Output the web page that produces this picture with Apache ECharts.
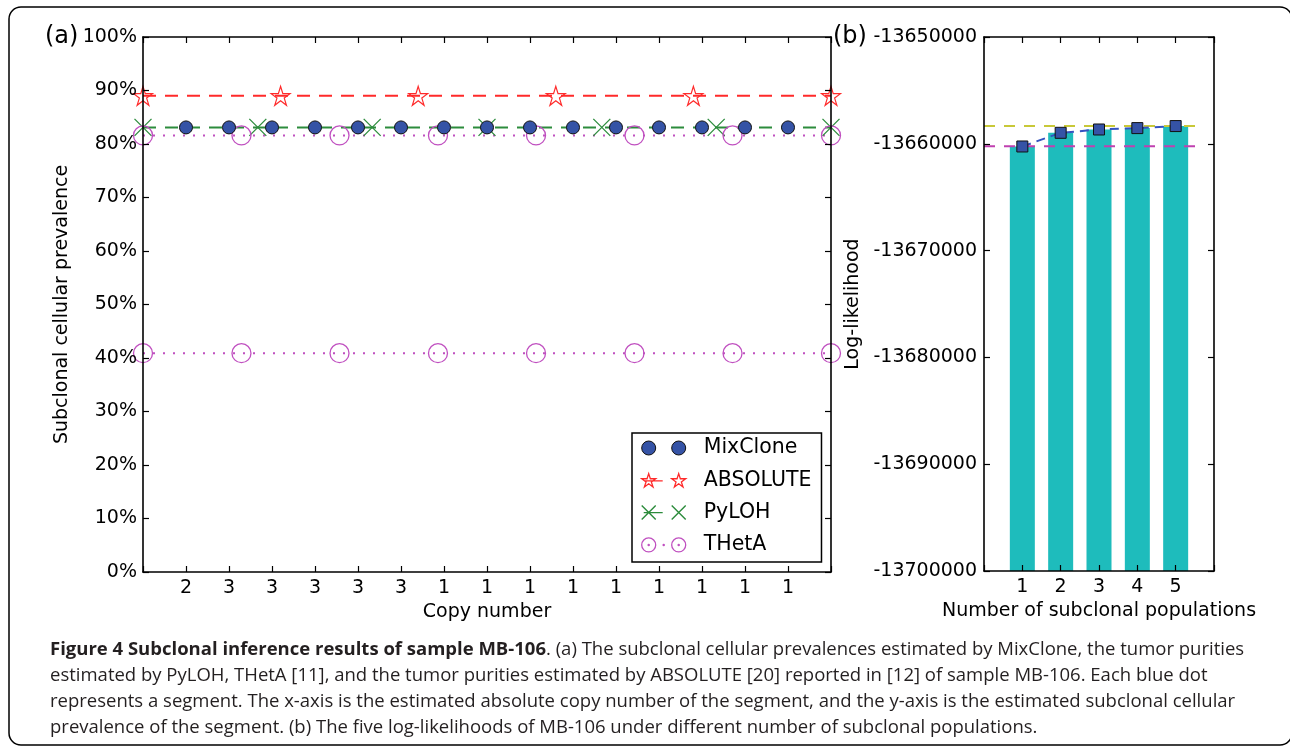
<!DOCTYPE html>
<html>
<head>
<meta charset="utf-8">
<script src="https://cdn.jsdelivr.net/npm/echarts@6/dist/echarts.min.js"></script>
<style>
html, body { margin: 0; padding: 0; background: #fff; }
#main { width: 1290px; height: 748px; }
</style>
</head>
<body>
<div id="main"></div>
<script>
// panel (a): one tick per segment, labelled with its copy number
var copyNumbers = ['2', '3', '3', '3', '3', '3', '1', '1', '1', '1', '1', '1', '1', '1', '1'];
var mixclone = [83.1, 83.1, 83.1, 83.1, 83.1, 83.1, 83.1, 83.1, 83.1, 83.1, 83.1, 83.1, 83.1, 83.1, 83.1];
// purity lines (markers only sit where matplotlib put them)
var absoluteX = [0, 3.2, 6.4, 9.6, 12.8, 16];
var absoluteY = 89.0;
var pylohX = [0, 2.67, 5.33, 8, 10.67, 13.33, 16];
var pylohY = 83.1;
var thetaX = [0, 2.29, 4.57, 6.86, 9.14, 11.43, 13.71, 16];
var thetaY = [81.6, 40.9];

// panel (b)
var subclones = [1, 2, 3, 4, 5];
var loglik = [-13660250, -13658970, -13658660, -13658530, -13658340];
var maxLine = -13658340;
var minLine = -13660220;
var refSpan = [0, 5.7];

var FONT = 'DejaVu Sans';
var RED = '#ff2a2a', GREEN = '#2c8c3c', MAGENTA = '#c050c0', BLUE = '#3553a6';
var chart = echarts.init(document.getElementById('main'));

function pts(xs, y) {
    return xs.map(function (x) { return [x, y]; });
}

var starPath = 'path://M50,2 L61.2,36.6 L97.6,36.6 L68.2,58 L79.4,92.6 L50,71.2 L20.6,92.6 L31.8,58 L2.4,36.6 L38.8,36.6 Z';
var crossPath = 'path://M0,0 L10,10 M10,0 L0,10';

// legend icons: two markers per entry, like matplotlib's numpoints=2
var iconMix = 'path://M0,8 A7,7 0 1,0 14,8 A7,7 0 1,0 0,8 Z M30,8 A7,7 0 1,0 44,8 A7,7 0 1,0 30,8 Z';
var iconAbs = 'path://M7,1.34 L8.65,6.43 L14,6.43 L9.67,9.57 L11.33,14.65 L7,11.51 L2.67,14.65 L4.33,9.57 L0,6.43 L5.35,6.43 Z ' +
    'M37,1.34 L38.65,6.43 L44,6.43 L39.67,9.57 L41.33,14.65 L37,11.51 L32.67,14.65 L34.33,9.57 L30,6.43 L35.35,6.43 Z M3,8.5 L21,8.5';
var iconPy = 'path://M0,1 L14,15 M14,1 L0,15 M30,1 L44,15 M44,1 L30,15 M2,8 L21,8';
var iconTheta = 'path://M0,8 A7,7 0 1,0 14,8 A7,7 0 1,0 0,8 Z M30,8 A7,7 0 1,0 44,8 A7,7 0 1,0 30,8 Z ' +
    'M6.4,8 A0.6,0.6 0 1,0 7.6,8 A0.6,0.6 0 1,0 6.4,8 Z M21.4,8 A0.6,0.6 0 1,0 22.6,8 A0.6,0.6 0 1,0 21.4,8 Z ' +
    'M36.4,8 A0.6,0.6 0 1,0 37.6,8 A0.6,0.6 0 1,0 36.4,8 Z';

// matplotlib style frame: ticks point into the plot on all four sides
function tickOpt() {
    return { show: true, inside: true, length: 6, lineStyle: { color: '#000', width: 1.2 } };
}
function lineOpt() {
    return { show: true, onZero: false, lineStyle: { color: '#000', width: 1.6 } };
}
function topAxis(gridIndex, xmax) {
    return { type: 'value', gridIndex: gridIndex, position: 'top', min: 0, max: xmax, interval: 1,
        axisLine: lineOpt(), axisTick: tickOpt(), axisLabel: { show: false }, splitLine: { show: false }, z: 5 };
}
function rightAxis(gridIndex, ymin, ymax, step) {
    return { type: 'value', gridIndex: gridIndex, position: 'right', min: ymin, max: ymax, interval: step,
        axisLine: lineOpt(), axisTick: tickOpt(), axisLabel: { show: false }, splitLine: { show: false }, z: 5 };
}
function textStyle() {
    return { fontFamily: FONT, fontSize: 19, color: '#000' };
}
function labelOpt(margin, fmt) {
    var o = textStyle();
    o.margin = margin;
    o.formatter = fmt;
    return o;
}

var capFont = { fontFamily: 'Open Sans', fontSize: 18.5, fill: '#231f20', verticalAlign: 'middle' };
function caption(y, text) {
    var s = Object.assign({ text: text, rich: { b: { fontWeight: 'bold', fontFamily: 'Open Sans', fontSize: 18.5, fill: '#231f20' } } }, capFont);
    return { type: 'text', x: 50, y: y, style: s };
}

var option = {
    backgroundColor: '#fff',
    animation: false,
    grid: [
        { left: 143, top: 37, width: 688, height: 535 },
        { left: 984, top: 37, width: 230, height: 534 }
    ],
    xAxis: [
        {
            type: 'value', gridIndex: 0, position: 'bottom', min: 0, max: 16, interval: 1,
            name: 'Copy number', nameLocation: 'middle', nameGap: 29,
            nameTextStyle: textStyle(),
            axisLine: lineOpt(), axisTick: tickOpt(), splitLine: { show: false }, z: 5,
            axisLabel: labelOpt(7, function (v) {
                return (v >= 1 && v <= copyNumbers.length) ? copyNumbers[v - 1] : '';
            })
        },
        topAxis(0, 16),
        {
            type: 'value', gridIndex: 1, position: 'bottom', min: 0, max: 6, interval: 1,
            name: 'Number of subclonal populations', nameLocation: 'middle', nameGap: 29,
            nameTextStyle: textStyle(),
            axisLine: lineOpt(), axisTick: tickOpt(), splitLine: { show: false }, z: 5,
            axisLabel: labelOpt(7, function (v) {
                return subclones.indexOf(v) >= 0 ? String(v) : '';
            })
        },
        topAxis(1, 6)
    ],
    yAxis: [
        {
            type: 'value', gridIndex: 0, position: 'left', min: 0, max: 100, interval: 10,
            name: 'Subclonal cellular prevalence', nameLocation: 'middle', nameGap: 69, nameRotate: 90,
            nameTextStyle: textStyle(),
            axisLine: lineOpt(), axisTick: tickOpt(), splitLine: { show: false }, z: 5,
            axisLabel: labelOpt(6, '{value}%')
        },
        rightAxis(0, 0, 100, 10),
        {
            type: 'value', gridIndex: 1, position: 'left', min: -13700000, max: -13650000, interval: 10000,
            startValue: -13700000,
            name: 'Log-likelihood', nameLocation: 'middle', nameGap: 121, nameRotate: 90,
            nameTextStyle: textStyle(),
            axisLine: lineOpt(), axisTick: tickOpt(), splitLine: { show: false }, z: 5,
            axisLabel: labelOpt(7, function (v) { return String(v); })
        },
        rightAxis(1, -13700000, -13650000, 10000)
    ],
    legend: {
        orient: 'vertical',
        left: 632, top: 433,
        padding: [4, 10, 6, 9],
        itemGap: 10.3,
        itemWidth: 44, itemHeight: 16,
        backgroundColor: '#fff',
        borderColor: '#000', borderWidth: 1.5, borderRadius: 0,
        formatter: function (n) { return '  ' + n; },
        textStyle: { fontFamily: FONT, fontSize: 20.5, color: '#000', lineHeight: 22 },
        data: [
            { name: 'MixClone', icon: iconMix, itemStyle: { color: BLUE, borderColor: '#111', borderWidth: 1 } },
            { name: 'ABSOLUTE', icon: iconAbs, itemStyle: { color: 'rgba(0,0,0,0)', borderColor: RED, borderWidth: 1.3 } },
            { name: 'PyLOH', icon: iconPy, itemStyle: { color: 'rgba(0,0,0,0)', borderColor: GREEN, borderWidth: 1.4 } },
            { name: 'THetA', icon: iconTheta, itemStyle: { color: 'rgba(0,0,0,0)', borderColor: MAGENTA, borderWidth: 1.3 } }
        ]
    },
    series: [
        {
            name: 'ABSOLUTE', type: 'line', xAxisIndex: 0, yAxisIndex: 0,
            data: pts(absoluteX, absoluteY),
            symbol: starPath, symbolSize: 19,
            itemStyle: { color: 'rgba(255,255,255,0)', borderColor: RED, borderWidth: 1.2 },
            lineStyle: { color: RED, width: 2, type: [13, 9] },
            z: 3
        },
        {
            name: 'PyLOH', type: 'line', xAxisIndex: 0, yAxisIndex: 0,
            data: pts(pylohX, pylohY),
            symbol: crossPath, symbolSize: 17,
            itemStyle: { color: 'rgba(255,255,255,0)', borderColor: GREEN, borderWidth: 1.3 },
            lineStyle: { color: GREEN, width: 2, type: [13, 9] },
            z: 3
        },
        {
            name: 'THetA', type: 'line', xAxisIndex: 0, yAxisIndex: 0,
            data: pts(thetaX, thetaY[0]),
            symbol: 'circle', symbolSize: 19,
            itemStyle: { color: 'rgba(255,255,255,0)', borderColor: MAGENTA, borderWidth: 1.3 },
            lineStyle: { color: MAGENTA, width: 2, type: [2, 8] },
            z: 3
        },
        {
            name: 'THetA', type: 'line', xAxisIndex: 0, yAxisIndex: 0,
            data: pts(thetaX, thetaY[1]),
            symbol: 'circle', symbolSize: 19,
            itemStyle: { color: 'rgba(255,255,255,0)', borderColor: MAGENTA, borderWidth: 1.3 },
            lineStyle: { color: MAGENTA, width: 2, type: [2, 8] },
            z: 3
        },
        {
            name: 'MixClone', type: 'scatter', xAxisIndex: 0, yAxisIndex: 0,
            data: mixclone.map(function (v, i) { return [i + 1, v]; }),
            symbol: 'circle', symbolSize: 13,
            itemStyle: { color: BLUE, borderColor: '#111', borderWidth: 1, opacity: 1 },
            z: 4
        },
        {
            type: 'bar', xAxisIndex: 2, yAxisIndex: 2,
            data: loglik.map(function (v, i) { return [subclones[i], v]; }),
            barWidth: 25,
            itemStyle: { color: '#1ebcbc' },
            z: 2
        },
        {
            type: 'line', xAxisIndex: 2, yAxisIndex: 2,
            data: pts(refSpan, maxLine), symbol: 'none',
            lineStyle: { color: '#c8c838', width: 2, type: [11, 9] },
            z: 3
        },
        {
            type: 'line', xAxisIndex: 2, yAxisIndex: 2,
            data: pts(refSpan, minLine), symbol: 'none',
            lineStyle: { color: '#c040b0', width: 2, type: [11, 9] },
            z: 3
        },
        {
            type: 'line', xAxisIndex: 2, yAxisIndex: 2,
            data: loglik.map(function (v, i) { return [subclones[i], v]; }),
            symbol: 'rect', symbolSize: 11,
            itemStyle: { color: BLUE, borderColor: '#111', borderWidth: 1 },
            lineStyle: { color: '#3553c0', width: 2, type: [9, 6] },
            z: 4
        }
    ],
    graphic: [
        { type: 'rect', shape: { x: 9, y: 7, width: 1283, height: 738, r: 12 },
          style: { fill: 'none', stroke: '#000', lineWidth: 1.5 }, z: 10 },
        { type: 'text', x: 45, y: 37, style: { text: '(a)', fontFamily: FONT, fontSize: 24, fill: '#000', verticalAlign: 'middle' } },
        { type: 'text', x: 833, y: 37, style: { text: '(b)', fontFamily: FONT, fontSize: 24, fill: '#000', verticalAlign: 'middle' } },
        caption(650, '{b|Figure 4 Subclonal inference results of sample MB-106}. (a) The subclonal cellular prevalences estimated by MixClone, the tumor purities'),
        caption(676, 'estimated by PyLOH, THetA [11], and the tumor purities estimated by ABSOLUTE [20] reported in [12] of sample MB-106. Each blue dot'),
        caption(702, 'represents a segment. The x-axis is the estimated absolute copy number of the segment, and the y-axis is the estimated subclonal cellular'),
        caption(728, 'prevalence of the segment. (b) The five log-likelihoods of MB-106 under different number of subclonal populations.')
    ]
};

chart.setOption(option);
</script>
</body>
</html>
